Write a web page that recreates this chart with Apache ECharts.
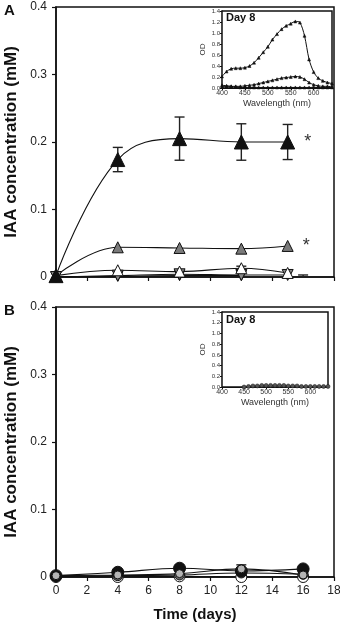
<!DOCTYPE html>
<html>
<head>
<meta charset="utf-8">
<script src="https://cdn.jsdelivr.net/npm/echarts@6/dist/echarts.min.js"></script>
<style>
  html, body { margin: 0; padding: 0; background: #fff; }
  #chart { width: 340px; height: 627px; }
</style>
</head>
<body>
<div id="chart"></div>
<script>
// ---- panel A: IAA over time (triangles) ----
const daysA = [0, 4, 8, 12, 15];
const aBlack = [0.002, 0.174, 0.205, 0.200, 0.200];
const aBlackErr = [0, 0.018, 0.032, 0.027, 0.026];
const aGray = [0.002, 0.044, 0.043, 0.042, 0.046];
const aWhite = [0.002, 0.010, 0.008, 0.013, 0.006];
const aWhiteErr = [0, 0, 0, 0.003, 0];
const aDown = [0.000, 0.002, 0.004, 0.003, 0.003];
const daysA2 = [0, 4, 8, 12, 16];
const aDark = [0.000, 0.001, 0.002, 0.002, 0.000];
const aDarkErr = [0, 0, 0, 0, 0.003];

// ---- panel B: IAA over time (circles) ----
const daysB = [0, 4, 8, 12, 16];
const bBlack = [0.002, 0.007, 0.013, 0.009, 0.012];
const bLight = [0.002, 0.003, 0.005, 0.012, 0.003];
const bLightErr = [0, 0, 0, 0.006, 0];
const bDark = [0.001, 0.002, 0.003, 0.006, 0.004];
const bWhite = [0.000, 0.000, 0.001, 0.000, 0.000];

// ---- insets: day 8 spectra ----
const wlA = [400, 410, 420, 430, 440, 450, 460, 470, 480, 490, 500, 510, 520,
  530, 540, 550, 560, 570, 580, 590, 600, 610, 620, 630, 640];
const odA1 = [0.21, 0.30, 0.35, 0.36, 0.36, 0.37, 0.40, 0.46, 0.55, 0.65, 0.75, 0.88, 0.98,
  1.07, 1.13, 1.17, 1.21, 1.19, 0.95, 0.52, 0.29, 0.18, 0.13, 0.10, 0.08];
const odA2 = [0.03, 0.03, 0.03, 0.03, 0.03, 0.04, 0.05, 0.06, 0.08, 0.10, 0.12, 0.14, 0.16,
  0.18, 0.19, 0.20, 0.21, 0.20, 0.16, 0.10, 0.06, 0.04, 0.03, 0.03, 0.02];
const odA3 = [0.05, 0.04, 0.03, 0.02, 0.01, 0.01, 0.01, 0.01, 0.01, 0.01, 0.01, 0.01, 0.01,
  0.01, 0.01, 0.01, 0.01, 0.01, 0.01, 0.01, 0.01, 0.01, 0.01, 0.01, 0.01];
const wlB = [450, 460, 470, 480, 490, 500, 510, 520, 530, 540, 550, 560, 570, 580, 590,
  600, 610, 620, 630, 640];
const odB = [0.00, 0.01, 0.02, 0.02, 0.03, 0.03, 0.03, 0.03, 0.03, 0.03, 0.02, 0.02, 0.02,
  0.01, 0.01, 0.01, 0.01, 0.01, 0.01, 0.01];

const wlTicks = [400, 450, 500, 550, 600];
const dayLabels = [0, 2, 4, 6, 8, 10, 12, 14, 16, 18];
const dayTicks = [2, 6, 10, 14, 18];

const FONT = "Liberation Sans, Arial, sans-serif";
const chart = echarts.init(document.getElementById("chart"), null, { renderer: "canvas" });

function pairs(xs, ys) {
  return xs.map((x, i) => [x, ys[i]]);
}
function errData(xs, ys, es) {
  return xs.map((x, i) => [x, ys[i], es[i]]).filter(d => d[2] > 0);
}
function withStar(xs, ys) {
  return xs.map((x, i) => i === xs.length - 1
    ? { value: [x, ys[i]], label: { show: true, formatter: "*", position: "right", distance: 9,
        fontSize: 18, color: "#333", fontFamily: FONT } }
    : [x, ys[i]]);
}

function errorBar(params, api) {
  const x = api.value(0), y = api.value(1), e = api.value(2);
  const top = api.coord([x, y + e]);
  const bot = api.coord([x, y - e]);
  const hw = 5;
  const style = { stroke: "#222", lineWidth: 1.4 };
  return {
    type: "group",
    children: [
      { type: "line", shape: { x1: top[0], y1: top[1], x2: bot[0], y2: bot[1] }, style },
      { type: "line", shape: { x1: top[0] - hw, y1: top[1], x2: top[0] + hw, y2: top[1] }, style },
      { type: "line", shape: { x1: bot[0] - hw, y1: bot[1], x2: bot[0] + hw, y2: bot[1] }, style }
    ]
  };
}

function mainLine(xi, data, symbol, size, fill, extra) {
  return Object.assign({
    type: "line",
    xAxisIndex: xi,
    yAxisIndex: xi,
    data,
    smooth: 0.4,
    symbol,
    symbolSize: size,
    showAllSymbol: true,
    lineStyle: { color: "#111", width: 1.1 },
    itemStyle: { color: fill, borderColor: "#111", borderWidth: 1 },
    z: 3
  }, extra || {});
}

function spectrum(xi, data, symbol, size, color) {
  return {
    type: "line",
    xAxisIndex: xi,
    yAxisIndex: xi,
    data,
    smooth: 0.3,
    symbol,
    symbolSize: size,
    showAllSymbol: true,
    lineStyle: { color: "#111", width: 1 },
    itemStyle: { color, borderColor: "#111", borderWidth: 0.5 },
    z: 6
  };
}

function mainY(gi) {
  return {
    type: "value",
    gridIndex: gi,
    min: 0,
    max: 0.4,
    interval: 0.1,
    name: "IAA concentration (mM)",
    nameLocation: "middle",
    nameRotate: 90,
    nameGap: 36,
    nameTextStyle: { fontSize: 17, fontWeight: "bold", color: "#111", fontFamily: FONT },
    axisLine: { show: true, lineStyle: { color: "#111", width: 1.5 } },
    axisTick: { show: true, inside: false, length: 4, lineStyle: { color: "#111", width: 1.2 } },
    axisLabel: {
      fontSize: 12, color: "#222", margin: 9, fontFamily: FONT,
      formatter: v => (v === 0 ? "0" : v.toFixed(1))
    },
    splitLine: { show: false }
  };
}

function insetX(gi) {
  return {
    type: "value",
    gridIndex: gi,
    min: 400,
    max: 640,
    name: "Wavelength (nm)",
    nameLocation: "middle",
    nameGap: 11,
    nameTextStyle: { fontSize: 9, color: "#333", fontFamily: FONT },
    axisLine: { show: true, lineStyle: { color: "#111", width: 1.2 } },
    axisTick: { show: true, length: 2, customValues: wlTicks, lineStyle: { color: "#111" } },
    axisLabel: { fontSize: 7, color: "#333", margin: 2, fontFamily: FONT, customValues: wlTicks },
    splitLine: { show: false }
  };
}

function insetY(gi) {
  return {
    type: "value",
    gridIndex: gi,
    min: 0,
    max: 1.4,
    interval: 0.2,
    name: "OD",
    nameLocation: "middle",
    nameRotate: 90,
    nameGap: 15,
    nameTextStyle: { fontSize: 8, color: "#333", fontFamily: FONT },
    axisLine: { show: true, lineStyle: { color: "#111", width: 1.2 } },
    axisTick: { show: true, length: 2, lineStyle: { color: "#111" } },
    axisLabel: { fontSize: 6, color: "#333", margin: 2, fontFamily: FONT, formatter: v => v.toFixed(1) },
    splitLine: { show: false }
  };
}

const gridBase = { show: true, borderColor: "#111", borderWidth: 1.5, outerBoundsMode: "none", containLabel: false };

chart.setOption({
  animation: false,
  backgroundColor: "#fff",
  grid: [
    Object.assign({ left: 56, top: 7, width: 278, height: 270 }, gridBase),
    Object.assign({ left: 222, top: 11, width: 110, height: 77, backgroundColor: "#fff", z: 5 }, gridBase),
    Object.assign({ left: 56, top: 307, width: 278, height: 270 }, gridBase),
    Object.assign({ left: 222, top: 312, width: 106, height: 75, backgroundColor: "#fff", z: 5 }, gridBase)
  ],
  xAxis: [
    {
      type: "value", gridIndex: 0, min: 0, max: 18,
      axisLine: { show: true, lineStyle: { color: "#111", width: 1.5 } },
      axisTick: { show: true, length: 4, customValues: dayTicks, lineStyle: { color: "#111", width: 1.2 } },
      axisLabel: { show: false },
      splitLine: { show: false }
    },
    insetX(1),
    {
      type: "value", gridIndex: 2, min: 0, max: 18,
      name: "Time (days)",
      nameLocation: "middle",
      nameGap: 30,
      nameTextStyle: { fontSize: 15, fontWeight: "bold", color: "#111", fontFamily: FONT },
      axisLine: { show: true, lineStyle: { color: "#111", width: 1.5 } },
      axisTick: { show: true, length: 4, customValues: dayTicks, lineStyle: { color: "#111", width: 1.2 } },
      axisLabel: { fontSize: 12, color: "#222", margin: 8, fontFamily: FONT, customValues: dayLabels },
      splitLine: { show: false }
    },
    insetX(3)
  ],
  yAxis: [mainY(0), insetY(1), mainY(2), insetY(3)],
  graphic: [
    { type: "text", left: 4, top: 3, style: { text: "A", font: "bold 15px " + FONT, fill: "#111" } },
    { type: "text", left: 4, top: 303, style: { text: "B", font: "bold 15px " + FONT, fill: "#111" } },
    { type: "text", left: 226, top: 12, z: 10, style: { text: "Day 8", font: "bold 11px " + FONT, fill: "#111" } },
    { type: "text", left: 226, top: 314, z: 10, style: { text: "Day 8", font: "bold 11px " + FONT, fill: "#111" } }
  ],
  series: [
    // panel A error bars
    { type: "custom", xAxisIndex: 0, yAxisIndex: 0, renderItem: errorBar, clip: true,
      data: errData(daysA, aBlack, aBlackErr), z: 2 },
    { type: "custom", xAxisIndex: 0, yAxisIndex: 0, renderItem: errorBar, clip: true,
      data: errData(daysA, aWhite, aWhiteErr), z: 2 },
    { type: "custom", xAxisIndex: 0, yAxisIndex: 0, renderItem: errorBar, clip: true,
      data: errData(daysA2, aDark, aDarkErr), z: 2 },
    // panel A lines
    mainLine(0, pairs(daysA2, aDark).slice(0, 4), "triangle", 10, "#444", { symbolRotate: 180 }),
    mainLine(0, pairs(daysA, aDown), "triangle", 11, "#888", { symbolRotate: 180 }),
    mainLine(0, pairs(daysA, aWhite), "triangle", 11, "#fff"),
    mainLine(0, withStar(daysA, aGray), "triangle", 11, "#7a7a7a"),
    mainLine(0, withStar(daysA, aBlack), "triangle", 14, "#111"),
    // inset A spectra
    spectrum(1, pairs(wlA, odA3), "triangle", 3, "#111"),
    spectrum(1, pairs(wlA, odA2), "triangle", 3, "#111"),
    spectrum(1, pairs(wlA, odA1), "triangle", 3, "#111"),
    // panel B
    { type: "custom", xAxisIndex: 2, yAxisIndex: 2, renderItem: errorBar, clip: true,
      data: errData(daysB, bLight, bLightErr), z: 2 },
    mainLine(2, pairs(daysB, bWhite), "circle", 11, "#fff"),
    mainLine(2, pairs(daysB, bDark), "circle", 10, "#666"),
    mainLine(2, pairs(daysB, bBlack), "circle", 12, "#111"),
    mainLine(2, pairs(daysB, bLight), "circle", 8, "#b5b5b5"),
    // inset B spectrum
    spectrum(3, pairs(wlB, odB), "circle", 4, "#555")
  ]
});
</script>
</body>
</html>
